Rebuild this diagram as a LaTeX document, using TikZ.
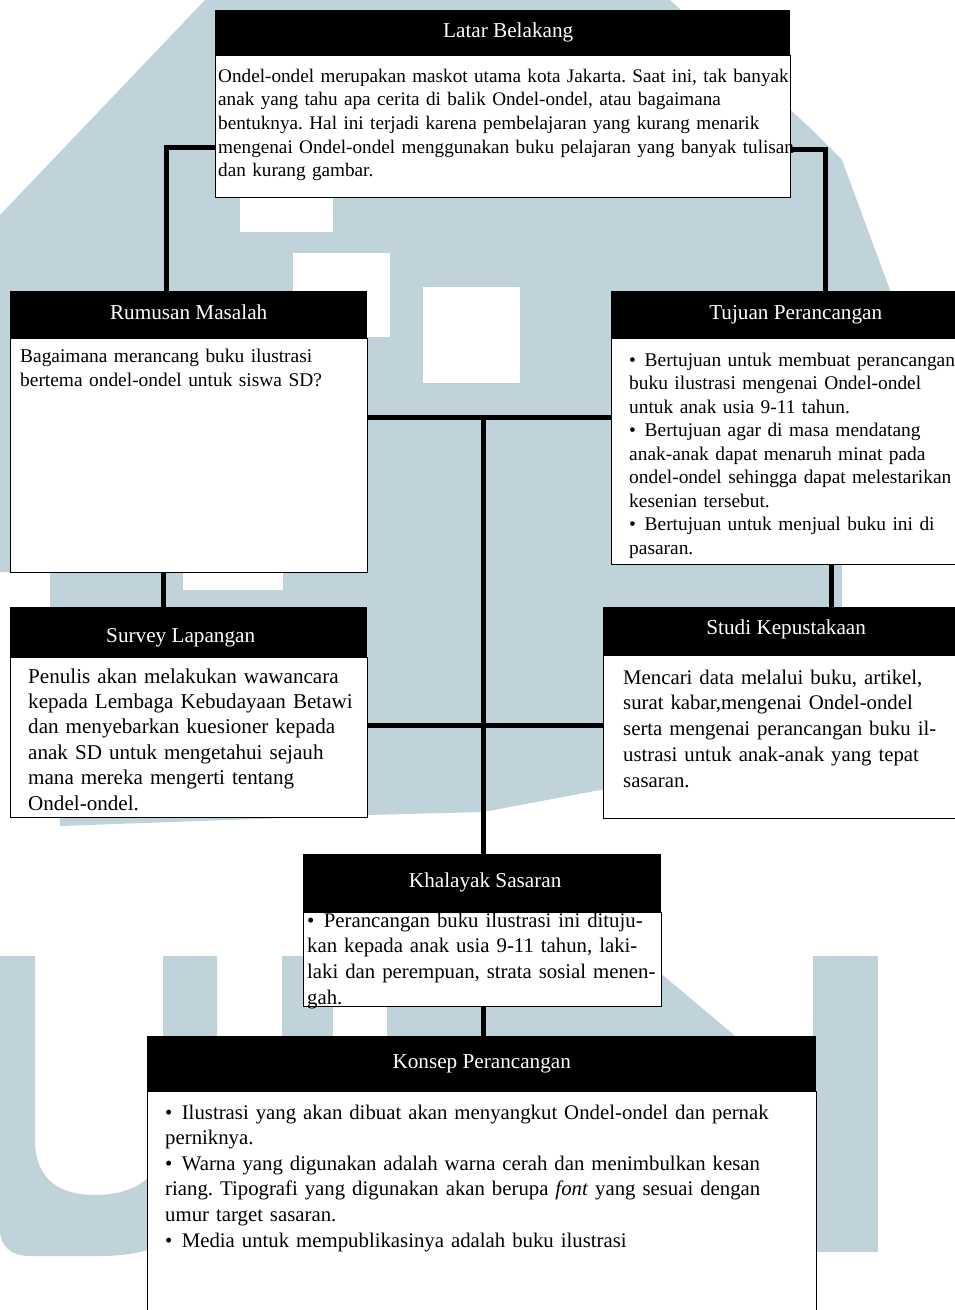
\documentclass[tikz,border=0pt]{standalone}
\usepackage{fontspec}
\setmainfont{Liberation Serif}
\usetikzlibrary{calc}
\frenchspacing
\definecolor{wm}{RGB}{193,211,218}
\tikzset{
  hdr/.style={fill=black, text=white, inner sep=0pt, anchor=north west, font=\fontsize{21.2}{25}\selectfont, text height=14.5pt, text depth=4.7pt},
  bodybox/.style={draw=black, line width=1.2pt, fill=white, inner sep=0pt, anchor=north west},
  txtS/.style={anchor=base west, inner sep=0pt, align=left, font=\fontsize{19.4}{23.7}\selectfont},
  txtL/.style={anchor=base west, inner sep=0pt, align=left, font=\fontsize{20.9}{25.6}\selectfont},
  conn/.style={line width=5pt, draw=black},
  wmark/.style={fill=wm},
  hole/.style={fill=white},
}
\begin{document}
\begin{tikzpicture}[x=1pt,y=-1pt]
\useasboundingbox (0,0) rectangle (955,1310);
\clip (0,0) rectangle (955,1310);
\fill[white] (0,0) rectangle (955,1310);
% watermark: building
\fill[wmark] (205,0) -- (670,0) -- (808,126) -- (842,160) -- (890,290) -- (890,564) -- (842,564) -- (842,790) -- (600,790) -- (483,812) -- (367,815) -- (60,826) -- (50,607) -- (50,572) -- (0,572) -- (0,215) -- cycle;
\fill[hole] (240,197) rectangle (333,232);
\fill[hole] (293,253) rectangle (390,337);
\fill[hole] (423,287) rectangle (520,383);
\fill[hole] (183,573) rectangle (283,590);
% watermark: letters
\fill[wmark] (0,956) -- (35,956) -- (35,1140) .. controls (35,1180) and (60,1195) .. (95,1195) .. controls (130,1195) and (163,1180) .. (163,1140) -- (163,956) -- (217,956) -- (217,1150) .. controls (217,1225) and (170,1256) .. (100,1256) -- (30,1256) .. controls (10,1256) and (0,1245) .. (0,1230) -- cycle;
\fill[wmark] (282,956) -- (640,956) -- (740,1040) -- (282,1040) -- cycle;
\fill[hole] (333,1007) rectangle (387,1036);
\fill[wmark] (813,956) rectangle (878,1252);

% Latar Belakang
\node[hdr, minimum width=575pt, minimum height=45pt] (latarH) at (215,9.5) {\hspace*{11pt}Latar Belakang};
\node[bodybox, minimum width=575pt, minimum height=142.5pt] (latarB) at (215,54.5) {};
\node[txtS, text width=600pt, font=\fontsize{19.2}{23.7}\selectfont] (latarT) at (218,82) {Ondel-ondel merupakan maskot utama kota Jakarta. Saat ini, tak banyak\\
anak yang tahu apa cerita di balik Ondel-ondel, atau bagaimana\\
bentuknya. Hal ini terjadi karena pembelajaran yang kurang menarik\\
mengenai Ondel-ondel menggunakan buku pelajaran yang banyak tulisan\\
dan kurang gambar.};

% Rumusan Masalah
\node[hdr, minimum width=357pt, minimum height=47pt] (rumusanH) at (10,291) {Rumusan Masalah};
\node[bodybox, minimum width=357pt, minimum height=234pt] (rumusanB) at (10,338) {};
\node[txtS, text width=345pt, font=\fontsize{19.4}{24}\selectfont] (rumusanT) at (20,362) {Bagaimana merancang buku ilustrasi\\
bertema ondel-ondel untuk siswa SD?};

% Tujuan Perancangan
\node[hdr, minimum width=369pt, minimum height=47pt] (tujuanH) at (611,291) {Tujuan Perancangan};
\node[bodybox, minimum width=369pt, minimum height=226pt] (tujuanB) at (611,338) {};
\node[txtS, text width=360pt, font=\fontsize{19.4}{23.5}\selectfont] (tujuanT) at (629,366) {•\hspace{0.45em}Bertujuan untuk membuat perancangan\\
buku ilustrasi mengenai Ondel-ondel\\
untuk anak usia 9-11 tahun.\\
•\hspace{0.45em}Bertujuan agar di masa mendatang\\
anak-anak dapat menaruh minat pada\\
ondel-ondel sehingga dapat melestarikan\\
kesenian tersebut.\\
•\hspace{0.45em}Bertujuan untuk menjual buku ini di\\
pasaran.};

% Survey Lapangan
\node[hdr, minimum width=357pt, minimum height=50pt, text height=24.5pt] (surveyH) at (10,607) {Survey Lapangan\hspace*{16pt}};
\node[bodybox, minimum width=357pt, minimum height=160pt] (surveyB) at (10,657) {};
\node[txtL, text width=345pt, font=\fontsize{21.1}{25.4}\selectfont] (surveyT) at (28,683) {Penulis akan melakukan wawancara\\
kepada Lembaga Kebudayaan Betawi\\
dan menyebarkan kuesioner kepada\\
anak SD untuk mengetahui sejauh\\
mana mereka mengerti tentang\\
Ondel-ondel.};

% Studi Kepustakaan
\node[hdr, minimum width=366pt, minimum height=48pt, text height=10.5pt] (studiH) at (603,607) {Studi Kepustakaan};
\node[bodybox, minimum width=366pt, minimum height=163pt] (studiB) at (603,655) {};
\node[txtL, text width=345pt, font=\fontsize{20.8}{25.75}\selectfont] (studiT) at (623,684) {Mencari data melalui buku, artikel,\\
surat kabar,mengenai Ondel-ondel\\
serta mengenai perancangan buku il-\\
ustrasi untuk anak-anak yang tepat\\
sasaran.};

% Khalayak Sasaran
\node[hdr, minimum width=358pt, minimum height=57.5pt] (khalayakH) at (303,854) {\hspace*{6pt}Khalayak Sasaran};
\node[bodybox, minimum width=358pt, minimum height=94.5pt] (khalayakB) at (303,911.5) {};
\node[txtL, text width=360pt, font=\fontsize{20.8}{25.6}\selectfont] (khalayakT) at (307,927.3) {•\hspace{0.45em}Perancangan buku ilustrasi ini dituju-\\
kan kepada anak usia 9-11 tahun, laki-\\
laki dan perempuan, strata sosial menen-\\
gah.};

% Konsep Perancangan
\node[hdr, minimum width=669pt, minimum height=55pt] (konsepH) at (147,1036) {Konsep Perancangan};
\node[bodybox, minimum width=669pt, minimum height=240pt] (konsepB) at (147,1091) {};
\node[txtL, text width=640pt, font=\fontsize{20.8}{25.6}\selectfont] (konsepT) at (165,1119) {•\hspace{0.45em}Ilustrasi yang akan dibuat akan menyangkut Ondel-ondel dan pernak\\
perniknya.\\
•\hspace{0.45em}Warna yang digunakan adalah warna cerah dan menimbulkan kesan\\
riang. Tipografi yang digunakan akan berupa \textit{font} yang sesuai dengan\\
umur target sasaran.\\
•\hspace{0.45em}Media untuk mempublikasinya adalah buku ilustrasi};

% connectors
\coordinate (elbowL) at (166,147);
\coordinate (elbowR) at (825,149);
\coordinate (trunkTop) at (483,417);
\coordinate (trunkMid) at (483,725);
\coordinate (colL) at (163,0);
\coordinate (colR) at (831,0);
\draw[conn] (latarB.west |- elbowL) -- (elbowL) -- (rumusanH.north -| elbowL);
\draw[conn] (latarB.east |- elbowR) -- (elbowR) -- (tujuanH.north -| elbowR);
\draw[conn] (rumusanB.east |- trunkTop) -- (tujuanB.west |- trunkTop);
\draw[conn] (trunkTop) -- (khalayakH.north -| trunkTop);
\draw[conn] (surveyB.east |- trunkMid) -- (studiB.west |- trunkMid);
\draw[conn] (rumusanB.south -| colL) -- (surveyH.north -| colL);
\draw[conn] (tujuanB.south -| colR) -- (studiH.north -| colR);
\draw[conn] (khalayakB.south -| trunkTop) -- (konsepH.north -| trunkTop);
\end{tikzpicture}
\end{document}
